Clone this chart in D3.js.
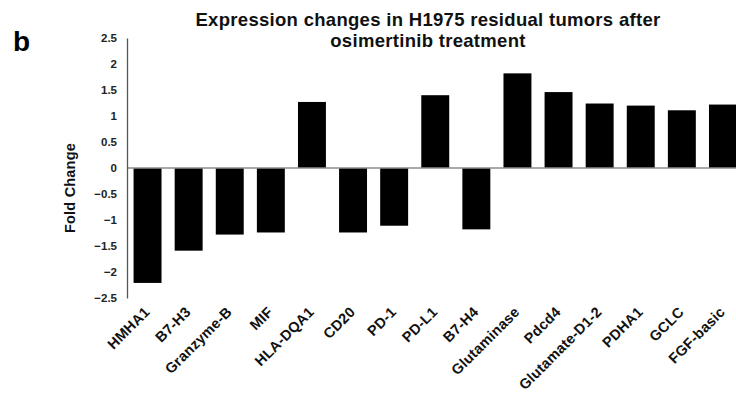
<!DOCTYPE html>
<html>
<head>
<meta charset="utf-8">
<script src="https://cdn.jsdelivr.net/npm/d3@7"></script>
<style>
  html, body { margin: 0; padding: 0; background: #fff; }
  svg { display: block; font-family: "Liberation Sans", Arial, sans-serif; }
</style>
</head>
<body>
<svg id="chart" width="736" height="395"></svg>
<script>
// Genes measured in residual tumours
const genes = ["HMHA1", "B7-H3", "Granzyme-B", "MIF", "HLA-DQA1", "CD20", "PD-1",
  "PD-L1", "B7-H4", "Glutaminase", "Pdcd4", "Glutamate-D1-2", "PDHA1", "GCLC", "FGF-basic"];
// Fold change for each gene
const foldChange = [-2.21, -1.59, -1.28, -1.24, 1.27, -1.24, -1.11,
  1.40, -1.18, 1.82, 1.46, 1.24, 1.20, 1.11, 1.22];
// Y-axis tick values
const yTicks = [2.5, 2, 1.5, 1, 0.5, 0, -0.5, -1, -1.5, -2, -2.5];

const titleLines = ["Expression changes in H1975 residual tumors after", "osimertinib treatment"];

const svg = d3.select("#chart");

const y = d3.scaleLinear().domain([-2.5, 2.5]).range([298, 38]);
const x = d3.scaleBand().domain(genes).range([127, 743.5])
  .paddingInner(0.32).paddingOuter(0.16);

// panel letter
svg.append("text")
  .attr("x", 13).attr("y", 50.5)
  .attr("font-size", 28).attr("font-weight", "bold")
  .text("b");

// title
svg.append("g").selectAll("text").data(titleLines).join("text")
  .attr("x", 428).attr("y", (d, i) => 25.5 + i * 21)
  .attr("text-anchor", "middle")
  .attr("font-size", 18.5).attr("font-weight", "bold")
  .attr("letter-spacing", 0.3)
  .attr("fill", "#111")
  .text(d => d);

// bars
svg.append("g").selectAll("rect").data(genes).join("rect")
  .attr("x", d => x(d))
  .attr("width", x.bandwidth())
  .attr("y", (d, i) => y(Math.max(0, foldChange[i])))
  .attr("height", (d, i) => Math.abs(y(foldChange[i]) - y(0)))
  .attr("fill", "#000");

// zero line
svg.append("line")
  .attr("x1", 127).attr("x2", 743.5)
  .attr("y1", y(0)).attr("y2", y(0))
  .attr("stroke", "#8c8c8c").attr("stroke-width", 1.5);

// y axis
const yAxis = svg.append("g")
  .attr("transform", "translate(127,0)")
  .call(d3.axisLeft(y).tickValues(yTicks).tickSize(0).tickPadding(10)
    .tickFormat(d => d3.format("")(d)));
yAxis.select(".domain").attr("stroke", "#555").attr("stroke-width", 1.3);
yAxis.selectAll("text")
  .attr("font-family", "Liberation Sans, Arial, sans-serif")
  .attr("font-size", 11.5).attr("font-weight", "bold")
  .attr("fill", "#222");

// y axis title
svg.append("text")
  .attr("transform", "translate(75,188) rotate(-90)")
  .attr("text-anchor", "middle")
  .attr("font-size", 14.5).attr("font-weight", "bold")
  .attr("letter-spacing", 0.2)
  .attr("fill", "#111")
  .text("Fold Change");

// category labels
svg.append("g").selectAll("text").data(genes).join("text")
  .attr("transform", d => `translate(${x(d) + x.bandwidth() / 2 + 3},313) rotate(-45)`)
  .attr("text-anchor", "end")
  .attr("font-size", 14.5).attr("font-weight", "bold")
  .attr("letter-spacing", 0.2)
  .attr("fill", "#111")
  .text(d => d);
</script>
</body>
</html>
